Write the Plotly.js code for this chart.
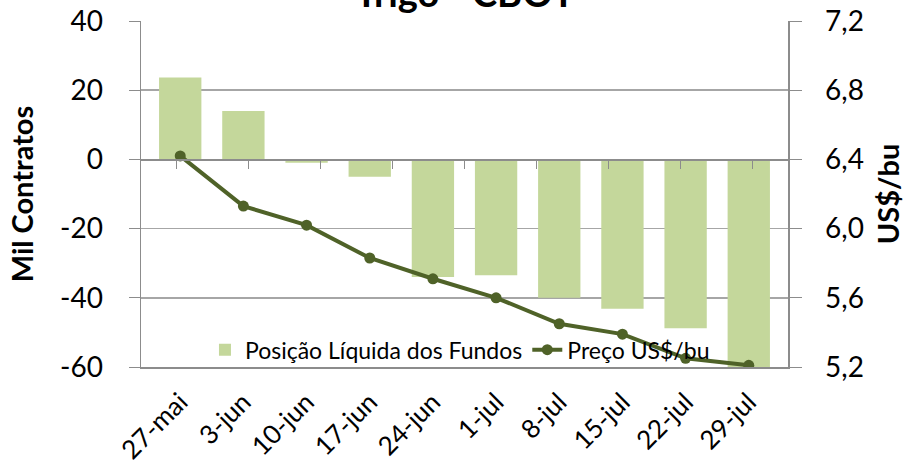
<!DOCTYPE html>
<html><head><meta charset="utf-8">
<script src="https://cdn.plot.ly/plotly-3.0.1.min.js"></script>
<style>html,body{margin:0;padding:0;background:#fff}#c{width:915px;height:471px}</style>
</head><body><div id="c"></div>
<script>
const categories = ["27-mai","3-jun","10-jun","17-jun","24-jun","1-jul","8-jul","15-jul","22-jul","29-jul"];
const posicaoLiquida = [23.7, 14.0, -1.0, -5.0, -34.0, -33.5, -40.0, -43.2, -48.8, -61.0];
const precoUSDbu = [6.42, 6.13, 6.02, 5.83, 5.71, 5.60, 5.45, 5.39, 5.25, 5.21];
const leftTicks = [-60, -40, -20, 0, 20, 40];
const leftTickText = ["-60", "-40", "-20", "0", "20", "40"];
const rightTicks = [5.2, 5.6, 6.0, 6.4, 6.8, 7.2];
const rightTickText = ["5,2", "5,6", "6,0", "6,4", "6,8", "7,2"];

const FONT = "Lato, 'Open Sans', sans-serif";
const data = [
  {type:'bar', x:categories, y:posicaoLiquida, name:'Posição Líquida dos Fundos',
   marker:{color:'#c4d79b'}, yaxis:'y', xaxis:'x'},
  {type:'scatter', mode:'lines+markers', x:categories, y:precoUSDbu, name:'Preço US$/bu',
   line:{color:'#4f6228', width:4}, marker:{color:'#4f6228', size:11}, yaxis:'y2', xaxis:'x'},
  {type:'scatter', x:categories, y:posicaoLiquida, xaxis:'x2', yaxis:'y', showlegend:false,
   hoverinfo:'skip', mode:'none'}
];
const layout = {
  width:915, height:471,
  margin:{l:141, r:127, t:21, b:104},
  paper_bgcolor:'#fff', plot_bgcolor:'#fff',
  bargap:0.33,
  font:{family:FONT, color:'#000'},
  showlegend:true,
  legend:{orientation:'h', x:0.493, xanchor:'center', y:0.05, yanchor:'middle',
          bgcolor:'rgba(0,0,0,0)', font:{size:23, family:FONT}, traceorder:'normal'},
  xaxis:{type:'category', showline:true, linecolor:'#8c8c8c', linewidth:1.5, mirror:false,
         tickangle:-45, tickfont:{size:26, family:FONT}, ticks:'', showgrid:false, zeroline:false,
         ticklabelstandoff:8, automargin:false},
  xaxis2:{type:'category', overlaying:'x', anchor:'free', position:0.6, showline:true,
          linecolor:'#8c8c8c', linewidth:1.5, ticks:'outside', tickson:'boundaries', ticklen:8,
          tickcolor:'#8c8c8c', showticklabels:false, showgrid:false, zeroline:false, side:'bottom'},
  yaxis:{range:[-60,40], tickvals:leftTicks, ticktext:leftTickText, showline:true, linecolor:'#8c8c8c', linewidth:1.5,
         gridcolor:'#a6a6a6', gridwidth:1.5, zeroline:false, ticks:'outside', ticklen:11,
         tickcolor:'#8c8c8c', ticklabelstandoff:20, tickfont:{size:28, family:FONT},
         title:{text:'<b>Mil Contratos</b>', font:{size:29, family:FONT}, standoff:18}, automargin:false},
  yaxis2:{range:[5.2,7.2], tickvals:rightTicks, ticktext:rightTickText, overlaying:'y', side:'right',
          showline:true, linecolor:'#8c8c8c', linewidth:1.5, showgrid:false, zeroline:false,
          ticks:'outside', ticklen:12, tickcolor:'#8c8c8c', tickfont:{size:28, family:FONT},
          ticklabelstandoff:18,
          title:{text:'<b>US$/bu</b>', font:{size:29, family:FONT}, standoff:16}, automargin:false},
  annotations:[{text:'<b>Trigo - CBOT</b>', xref:'paper', yref:'paper', x:0.5, y:1.012,
                xanchor:'center', yanchor:'bottom', showarrow:false, font:{size:38, family:FONT}}]
};
Plotly.newPlot('c', data, layout, {displayModeBar:false, staticPlot:true});
</script></body></html>
